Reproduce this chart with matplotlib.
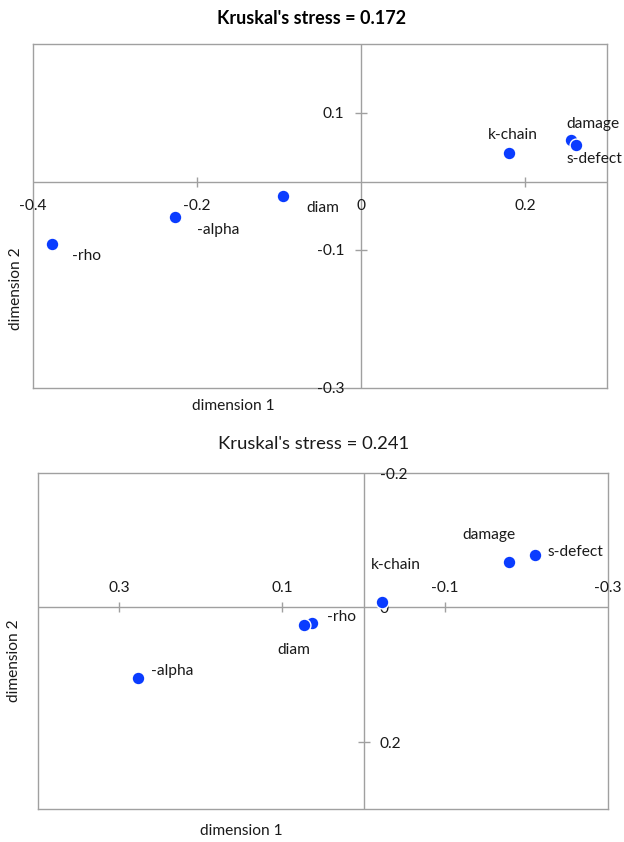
import matplotlib
matplotlib.use("Agg")
import matplotlib.pyplot as plt

plt.rcParams['font.family'] = ['Lato', 'DejaVu Sans']

# Configuration coordinates from the two MDS solutions
labels_1 = ["-rho", "-alpha", "diam", "k-chain", "damage", "s-defect"]
dim1_1 = [-0.377, -0.227, -0.095, 0.180, 0.256, 0.262]
dim2_1 = [-0.090, -0.051, -0.021, 0.042, 0.061, 0.053]
stress_1 = 0.172

labels_2 = ["k-chain", "damage", "s-defect", "-rho", "diam", "-alpha"]
dim1_2 = [-0.023, -0.178, -0.210, 0.063, 0.073, 0.277]
dim2_2 = [-0.008, -0.068, -0.078, 0.023, 0.026, 0.105]
stress_2 = 0.241

xticks_1 = [-0.4, -0.2, 0, 0.2]
yticks_1 = [-0.3, -0.1, 0.1]
xticks_2 = [0.3, 0.1, -0.1, -0.3]
yticks_2 = [-0.2, 0, 0.2]

# label offsets in pixels (dx right, dy down)
offsets_1 = {"-rho": (35, 12), "-alpha": (43, 13), "diam": (40, 12),
             "k-chain": (4, -18), "damage": (22, -16), "s-defect": (19, 14)}
offsets_2 = {"k-chain": (13, -37), "damage": (-20, -27), "s-defect": (41, -3),
             "-rho": (29, -6), "diam": (-10, 25), "-alpha": (34, -7)}

GRAY = "#a0a0a0"
BLUE = "#0a3cff"
TXT = "#1a1a1a"
FS = 11.2
PX = 0.72  # points per pixel at 100 dpi

fig = plt.figure(figsize=(6.24, 8.42), dpi=100)


def panel(rect, xs, ys, names, offs, xlim, ylim, xticks, yticks,
          xlab_dy, ylab_side):
    ax = fig.add_axes(rect)
    ax.set_xlim(*xlim)
    ax.set_ylim(*ylim)
    ax.set_xticks([])
    ax.set_yticks([])
    for s in ax.spines.values():
        s.set_color(GRAY)
        s.set_linewidth(1.0)
    ax.axhline(0, color=GRAY, lw=1.0, zorder=1)
    ax.axvline(0, color=GRAY, lw=1.0, zorder=1)
    # cross tick marks on the centred axes
    tx = [t for t in xticks if t != 0 and t not in xlim]
    ty = [t for t in yticks if t != 0 and t not in ylim]
    ax.plot(tx, [0] * len(tx), ls="none", marker="|", ms=7, mew=1.0,
            color=GRAY, zorder=1)
    ax.plot([0] * len(ty), ty, ls="none", marker="_", ms=9, mew=1.0,
            color=GRAY, zorder=1)
    for t in xticks:
        ax.annotate(f"{t:g}", (t, 0), xytext=(0, -xlab_dy * PX),
                    textcoords="offset points", ha="center", va="center",
                    fontsize=FS, color=TXT, annotation_clip=False)
    for t in yticks:
        if ylab_side == "left":
            ax.annotate(f"{t:g}", (0, t), xytext=(-17 * PX, -1 * PX),
                        textcoords="offset points", ha="right", va="center",
                        fontsize=FS, color=TXT, annotation_clip=False)
        else:
            ax.annotate(f"{t:g}", (0, t), xytext=(16 * PX, -2 * PX),
                        textcoords="offset points", ha="left", va="center",
                        fontsize=FS, color=TXT, annotation_clip=False)
    ax.scatter(xs, ys, s=85, color=BLUE, edgecolor="white", linewidth=1.0,
               zorder=3, clip_on=False)
    for x, y, n in zip(xs, ys, names):
        dx, dy = offs[n]
        ax.annotate(n, (x, y), xytext=(dx * PX, -dy * PX),
                    textcoords="offset points", ha="center", va="center",
                    fontsize=FS, color=TXT, annotation_clip=False)
    return ax


# top panel
ax1 = panel([33 / 624, 1 - 388 / 842, 574 / 624, 344 / 842],
            dim1_1, dim2_1, labels_1, offsets_1,
            (-0.4, 0.3), (-0.3, 0.2), xticks_1, yticks_1,
            24, "left")
fig.text(312 / 624, 1 - 18 / 842, f"Kruskal's stress = {stress_1}",
         ha="center", va="center", fontsize=13.0, fontweight="bold", color="black")
fig.text(233 / 624, 1 - 406 / 842, "dimension 1", ha="center", va="center",
         fontsize=FS, color=TXT)
fig.text(16 / 624, 1 - 289 / 842, "dimension 2", ha="center", va="center",
         rotation=90, fontsize=FS, color=TXT)

# bottom panel (both axes reversed)
ax2 = panel([38 / 624, 1 - 809 / 842, 570 / 624, 336 / 842],
            dim1_2, dim2_2, labels_2, offsets_2,
            (0.4, -0.3), (0.3, -0.2), xticks_2, yticks_2,
            -19, "right")
fig.text(314 / 624, 1 - 444 / 842, f"Kruskal's stress = {stress_2}",
         ha="center", va="center", fontsize=13.3, color=TXT)
fig.text(241 / 624, 1 - 831 / 842, "dimension 1", ha="center", va="center",
         fontsize=FS, color=TXT)
fig.text(14 / 624, 1 - 661 / 842, "dimension 2", ha="center", va="center",
         rotation=90, fontsize=FS, color=TXT)

fig.savefig("out.png", dpi=100, facecolor="white")
